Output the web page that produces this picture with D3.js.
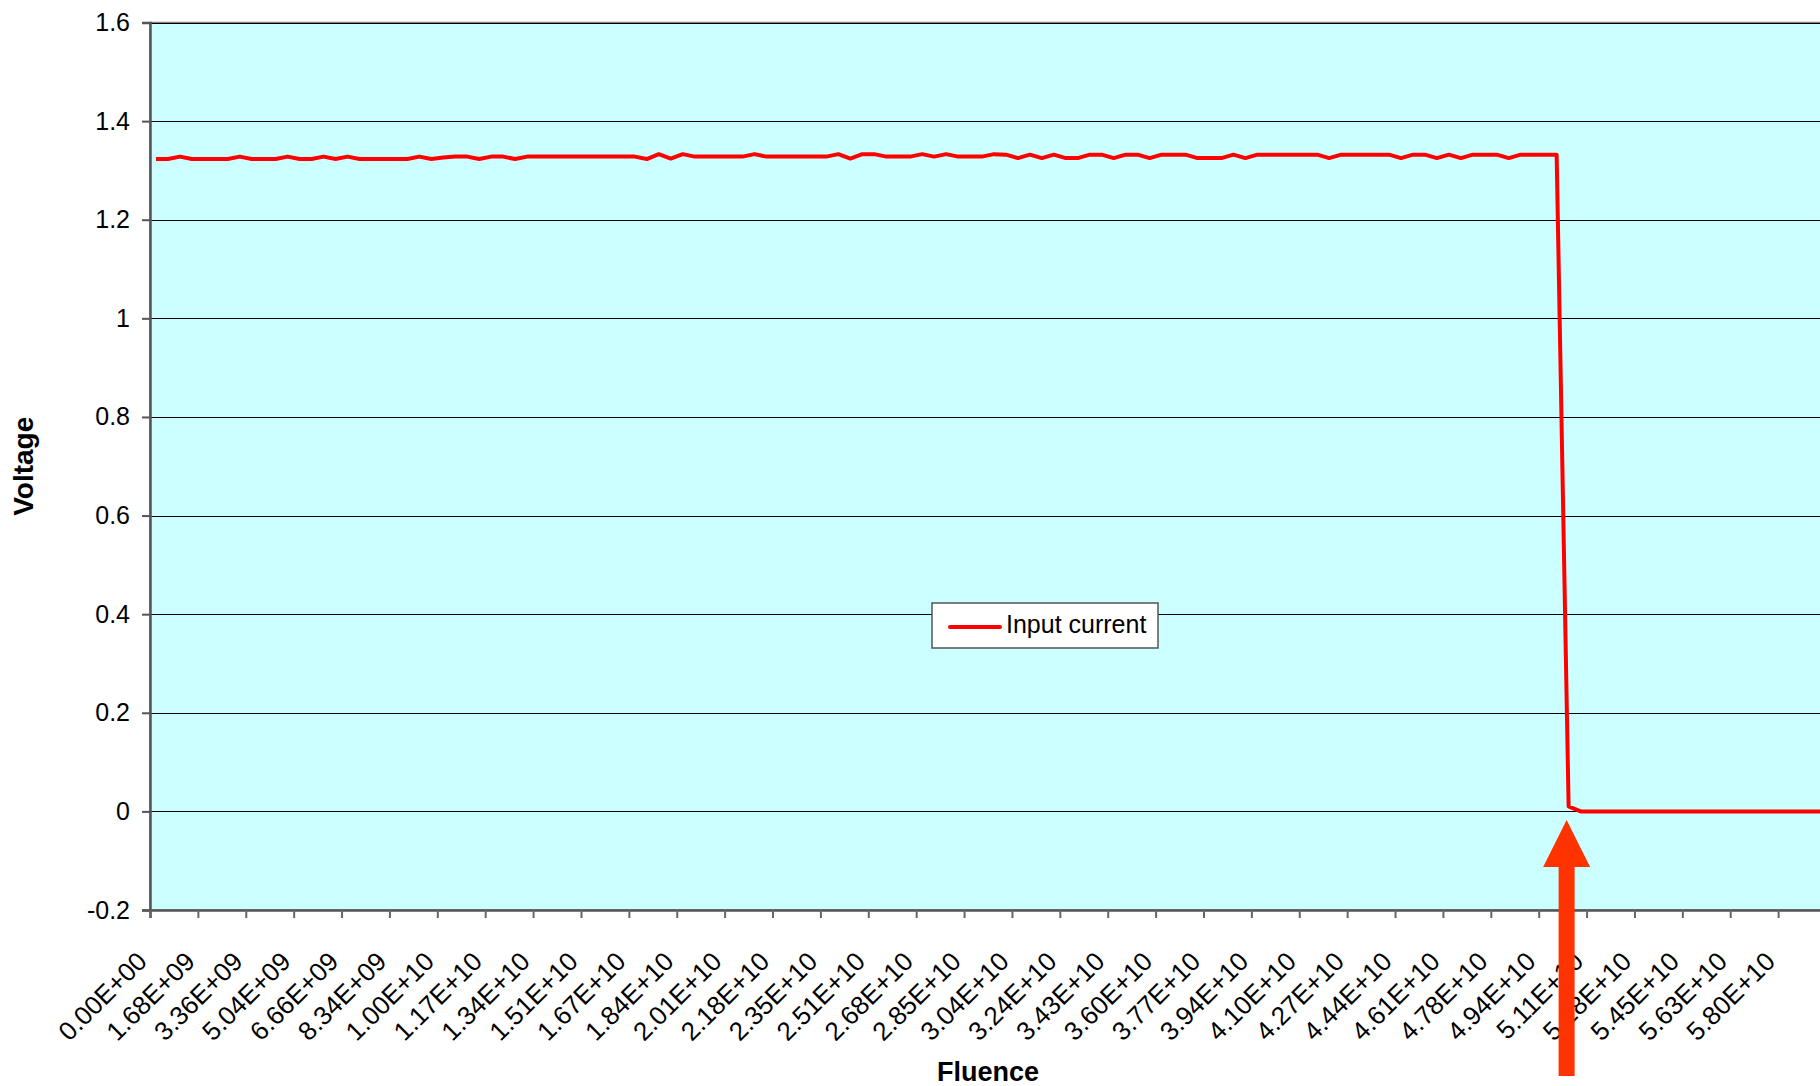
<!DOCTYPE html>
<html>
<head>
<meta charset="utf-8">
<script src="https://cdn.jsdelivr.net/npm/d3@7"></script>
<style>
  body { margin: 0; background: #fff; }
  svg { display: block; font-family: "Liberation Sans", Arial, sans-serif; }
  .tick text { fill: #000; }
</style>
</head>
<body>
<svg id="chart"></svg>
<script>
let w = 1820;
let h = 1086;

// x category labels, one on every 4th point
let tickLabels = [
  "0.00E+00", "1.68E+09", "3.36E+09", "5.04E+09", "6.66E+09", "8.34E+09",
  "1.00E+10", "1.17E+10", "1.34E+10", "1.51E+10", "1.67E+10", "1.84E+10",
  "2.01E+10", "2.18E+10", "2.35E+10", "2.51E+10", "2.68E+10", "2.85E+10",
  "3.04E+10", "3.24E+10", "3.43E+10", "3.60E+10", "3.77E+10", "3.94E+10",
  "4.10E+10", "4.27E+10", "4.44E+10", "4.61E+10", "4.78E+10", "4.94E+10",
  "5.11E+10", "5.28E+10", "5.45E+10", "5.63E+10", "5.80E+10"
];
let labelEvery = 4;

// Input current (volts)
let voltage = [
  1.323, 1.323, 1.328, 1.323, 1.323, 1.323, 1.323, 1.328, 1.323, 1.323,
  1.323, 1.328, 1.323, 1.323, 1.328, 1.323, 1.328, 1.323, 1.323, 1.323,
  1.323, 1.323, 1.328, 1.323, 1.326, 1.328, 1.328, 1.323, 1.328, 1.328,
  1.323, 1.328, 1.328, 1.328, 1.328, 1.328, 1.328, 1.328, 1.328, 1.328,
  1.328, 1.323, 1.333, 1.324, 1.333, 1.328, 1.328, 1.328, 1.328, 1.328,
  1.333, 1.328, 1.328, 1.328, 1.328, 1.328, 1.328, 1.333, 1.324, 1.333,
  1.333, 1.328, 1.328, 1.328, 1.333, 1.328, 1.333, 1.328, 1.328, 1.328,
  1.333, 1.332, 1.325, 1.332, 1.325, 1.332, 1.325, 1.325, 1.332, 1.332,
  1.325, 1.332, 1.332, 1.325, 1.332, 1.332, 1.332, 1.325, 1.325, 1.325,
  1.332, 1.325, 1.332, 1.332, 1.332, 1.332, 1.332, 1.332, 1.325, 1.332,
  1.332, 1.332, 1.332, 1.332, 1.325, 1.332, 1.332, 1.325, 1.332, 1.325,
  1.332, 1.332, 1.332, 1.325, 1.332, 1.332, 1.332, 1.332, 0.01, 0,
  0, 0, 0, 0, 0, 0, 0, 0, 0, 0,
  0, 0, 0, 0, 0, 0, 0, 0, 0, 0
];

let yTicks = [-0.2, 0, 0.2, 0.4, 0.6, 0.8, 1, 1.2, 1.4, 1.6];
let seriesName = "Input current";

let plotLeft = 150, plotTop = 22.5, plotBottom = 910, plotRight = 1826;

let svg = d3.select("#chart").attr("width", w).attr("height", h);

svg.append("rect").attr("width", w).attr("height", h).attr("fill", "#fff");

let x = d3.scaleLinear().domain([0, voltage.length]).range([plotLeft, plotRight]);
let y = d3.scaleLinear().domain([-0.2, 1.6]).range([plotBottom, plotTop]);

// plot area
svg.append("rect")
  .attr("x", plotLeft)
  .attr("y", plotTop)
  .attr("width", plotRight - plotLeft)
  .attr("height", plotBottom - plotTop)
  .attr("fill", "#ccffff")
  .attr("stroke", "#808080")
  .attr("stroke-width", 1.5);

// gridlines
svg.append("g")
  .selectAll("line")
  .data(yTicks.filter(d => d > -0.2))
  .enter()
  .append("line")
  .attr("x1", plotLeft)
  .attr("x2", plotRight)
  .attr("y1", d => Math.round(y(d)) + 0.5)
  .attr("y2", d => Math.round(y(d)) + 0.5)
  .attr("stroke", "#000")
  .attr("stroke-width", 1);

// y axis
let yAxis = svg.append("g")
  .attr("transform", "translate(" + plotLeft + ",0)")
  .call(d3.axisLeft(y).tickValues(yTicks).tickSize(8).tickPadding(12)
    .tickFormat(d => String(+d.toFixed(1))));
yAxis.select(".domain").attr("stroke", "#555").attr("stroke-width", 2.5);
yAxis.selectAll(".tick line").attr("stroke", "#555").attr("stroke-width", 2);
yAxis.selectAll(".tick text").attr("font-size", 25);

// x axis
let xAxis = svg.append("g")
  .attr("transform", "translate(0," + plotBottom + ")")
  .call(d3.axisBottom(x)
    .tickValues(d3.range(0, voltage.length + 1, labelEvery))
    .tickSize(8)
    .tickFormat(i => tickLabels[i / labelEvery] || ""));
xAxis.select(".domain").attr("stroke", "#555").attr("stroke-width", 2.5);
xAxis.selectAll(".tick line").attr("stroke", "#666").attr("stroke-width", 2);
xAxis.selectAll(".tick text")
  .attr("font-size", 26)
  .attr("x", 0)
  .attr("y", 0)
  .attr("dy", 0)
  .attr("text-anchor", "end")
  .attr("transform", "translate(-2,53) rotate(-45)");

// series line
let line = d3.line()
  .x((d, i) => x(i + 0.5))
  .y(d => y(d));

svg.append("path")
  .datum(voltage)
  .attr("d", line)
  .attr("fill", "none")
  .attr("stroke", "#ff0000")
  .attr("stroke-width", 4)
  .attr("stroke-linejoin", "round");

// axis titles
svg.append("text")
  .attr("transform", "translate(33," + (plotTop + plotBottom) / 2 + ") rotate(-90)")
  .attr("text-anchor", "middle")
  .attr("font-size", 28)
  .attr("font-weight", "bold")
  .text("Voltage");

svg.append("text")
  .attr("x", (plotLeft + plotRight) / 2)
  .attr("y", 1081)
  .attr("text-anchor", "middle")
  .attr("font-size", 27)
  .attr("font-weight", "bold")
  .text("Fluence");

// legend
let legend = svg.append("g").attr("transform", "translate(932,603)");
legend.append("rect")
  .attr("width", 226)
  .attr("height", 45)
  .attr("fill", "#fff")
  .attr("stroke", "#555")
  .attr("stroke-width", 1.5);
legend.append("line")
  .attr("x1", 18).attr("x2", 68)
  .attr("y1", 24).attr("y2", 24)
  .attr("stroke", "#ff0000")
  .attr("stroke-width", 4)
  .attr("stroke-linecap", "round");
legend.append("text")
  .attr("x", 74)
  .attr("y", 30)
  .attr("font-size", 25)
  .text(seriesName);

// arrow marking where the signal drops
let dropIndex = voltage.findIndex(v => v < 0.5);
let ax = x(dropIndex + 0.5) - 2;
svg.append("path")
  .attr("d", "M" + ax + ",820 L" + (ax + 23.5) + ",867 L" + (ax + 8) + ",867 L" + (ax + 8) + ",1076 L" +
    (ax - 8) + ",1076 L" + (ax - 8) + ",867 L" + (ax - 23.5) + ",867 Z")
  .attr("fill", "#ff3300");
</script>
</body>
</html>
